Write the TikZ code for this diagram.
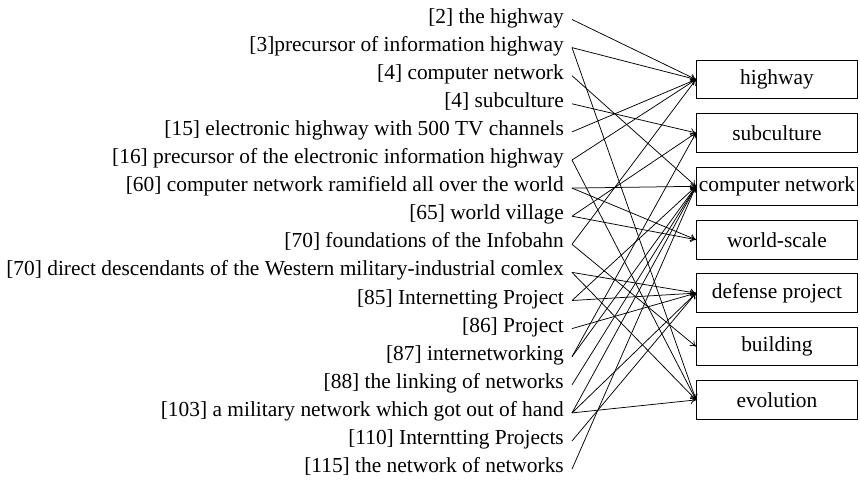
\documentclass[tikz,border=0pt]{standalone}
\usepackage{fontspec}
\setmainfont{Liberation Serif}
\usetikzlibrary{arrows.meta}
\begin{document}
\begin{tikzpicture}[x=1pt,y=-1pt,
  srclabel/.style={anchor=east,inner xsep=8pt,inner ysep=0pt,
    font=\fontsize{21.4}{24}\selectfont,text height=0.9em,text depth=0.2em},
  catbox/.style={draw,line width=0.9pt,anchor=west,minimum width=161pt,
    minimum height=38.5pt,inner sep=0pt,font=\fontsize{21.4}{24}\selectfont},
  link/.style={line width=0.75pt,-{To[length=5.5pt,width=7pt]}}]
\useasboundingbox (0,0) rectangle (860,480);

% source phrases, right-aligned
\node[srclabel] (l1)  at (572,19.5)  {[2] the highway};
\node[srclabel] (l2)  at (572,47.6)  {[3]precursor of information highway};
\node[srclabel] (l3)  at (572,75.7)  {[4] computer network};
\node[srclabel] (l4)  at (572,103.8) {[4] subculture};
\node[srclabel] (l5)  at (572,131.9) {[15] electronic highway with 500 TV channels};
\node[srclabel] (l6)  at (572,160.0) {[16] precursor of the electronic information highway};
\node[srclabel] (l7)  at (572,188.1) {[60] computer network ramifield all over the world};
\node[srclabel] (l8)  at (572,216.2) {[65] world village};
\node[srclabel] (l9)  at (572,244.3) {[70] foundations of the Infobahn};
\node[srclabel] (l10) at (572,272.4) {[70] direct descendants of the Western military-industrial comlex};
\node[srclabel] (l11) at (572,300.5) {[85] Internetting Project};
\node[srclabel] (l12) at (572,328.6) {[86] Project};
\node[srclabel] (l13) at (572,356.7) {[87] internetworking};
\node[srclabel] (l14) at (572,384.8) {[88] the linking of networks};
\node[srclabel] (l15) at (572,412.9) {[103] a military network which got out of hand};
\node[srclabel] (l16) at (572,441.0) {[110] Interntting Projects};
\node[srclabel] (l17) at (572,469.1) {[115] the network of networks};

% categories
\node[catbox] (hw) at (696,79.5)  {highway};
\node[catbox] (sc) at (696,132.9) {subculture};
\node[catbox] (cn) at (696,186.3) {computer network};
\node[catbox] (ws) at (696,239.7) {world-scale};
\node[catbox] (dp) at (696,293.1) {defense project};
\node[catbox] (bd) at (696,346.5) {building};
\node[catbox] (ev) at (696,399.9) {evolution};

% phrase -> category links
\draw[link] (l1.east)  -- (hw.west);
\draw[link] (l2.east)  -- (hw.west);
\draw[link] (l2.east)  -- (ev.west);
\draw[link] (l3.east)  -- (cn.west);
\draw[link] (l4.east)  -- (sc.west);
\draw[link] (l5.east)  -- (hw.west);
\draw[link] (l6.east)  -- (hw.west);
\draw[link] (l6.east)  -- (ev.west);
\draw[link] (l7.east)  -- (cn.west);
\draw[link] (l7.east)  -- (ws.west);
\draw[link] (l8.east)  -- (sc.west);
\draw[link] (l8.east)  -- (ws.west);
\draw[link] (l9.east)  -- (hw.west);
\draw[link] (l9.east)  -- (bd.west);
\draw[link] (l10.east) -- (dp.west);
\draw[link] (l10.east) -- (ev.west);
\draw[link] (l11.east) -- (dp.west);
\draw[link] (l11.east) -- (cn.west);
\draw[link] (l12.east) -- (dp.west);
\draw[link] (l13.east) -- (cn.west);
\draw[link] (l13.east) -- (sc.west);
\draw[link] (l14.east) -- (cn.west);
\draw[link] (l15.east) -- (cn.west);
\draw[link] (l15.east) -- (dp.west);
\draw[link] (l15.east) -- (ev.west);
\draw[link] (l16.east) -- (dp.west);
\draw[link] (l17.east) -- (cn.west);
\end{tikzpicture}
\end{document}
